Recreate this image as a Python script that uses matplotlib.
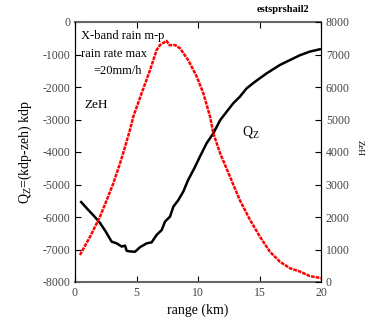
import matplotlib
matplotlib.use("Agg")
import matplotlib.pyplot as plt

plt.rcParams['font.family'] = ['Liberation Serif', 'DejaVu Serif']
plt.rcParams['axes.unicode_minus'] = False

# Q_Z (left axis)
qz_x = [0.5, 1.0, 1.5, 2.03, 2.5, 2.98, 3.39, 3.8, 4.07, 4.2, 4.5, 4.88, 5.28, 5.83,
        6.23, 6.64, 7.05, 7.32, 7.72, 8.0, 8.4, 8.8, 9.2, 9.7, 10.16, 10.7, 11.24,
        11.8, 12.33, 12.87, 13.4, 13.96, 14.63, 15.58, 16.67, 17.48, 18.3, 19.1, 19.9]
qz_y = [-5540, -5750, -5950, -6180, -6450, -6760, -6810, -6910, -6880, -7040, -7060,
        -7070, -6930, -6810, -6780, -6550, -6400, -6140, -5990, -5680, -5480, -5220,
        -4860, -4500, -4140, -3730, -3430, -3020, -2760, -2500, -2300, -2040, -1840,
        -1580, -1320, -1170, -1020, -910, -840]

# ZeH (right axis)
zeh_x = [0.4, 1.22, 2.03, 2.58, 3.12, 3.66, 4.07, 4.47, 4.74, 5.42, 6.1, 6.64, 6.91,
         7.45, 7.67, 8.13, 8.54, 9.2, 9.9, 10.43, 10.98, 11.24, 11.8, 12.6, 13.4,
         14.23, 15.04, 15.85, 16.67, 17.5, 18.3, 19.1, 20.0]
zeh_y = [830, 1390, 2010, 2520, 3040, 3650, 4160, 4680, 5090, 5810, 6520, 7140, 7290,
         7420, 7290, 7290, 7190, 6830, 6320, 5810, 5090, 4580, 3960, 3240, 2520,
         1910, 1390, 930, 620, 420, 320, 180, 120]

fig = plt.figure(figsize=(3.66, 3.2), dpi=100)
ax = fig.add_axes([75/366, 1-282/320, 246/366, 260/320])
ax.plot(qz_x, qz_y, color='black', lw=1.8)
ax.set_xlim(0, 20)
ax.set_ylim(-8000, 0)
ax.set_xticks([0, 5, 10, 15, 20])
ax.set_yticks(range(-8000, 1, 1000))
ax.tick_params(direction='in', labelsize=8.5, labelcolor='#444444', length=4, top=True)
ax.spines['top'].set_color('#666666')
ax.spines['bottom'].set_color('#666666')
ax.spines['top'].set_linewidth(1.5)
ax.spines['bottom'].set_linewidth(1.5)
ax.set_xlabel('range (km)', fontsize=10, labelpad=3)
ax.set_ylabel('Q$_\\mathregular{Z}$=(kdp-zeh) kdp', fontsize=10, labelpad=6)

ax2 = ax.twinx()
ax2.plot(zeh_x, zeh_y, color='red', lw=1.8, ls=(0, (1.5, 0.4)))
ax2.set_ylim(0, 8000)
ax2.set_yticks(range(0, 8001, 1000))
ax2.tick_params(direction='in', labelsize=8.5, labelcolor='#444444', length=4)
ax2.spines['top'].set_visible(False)
ax2.spines['bottom'].set_visible(False)

ax.text(0.45, -250, 'X-band rain m-p', fontsize=9, va='top')
ax.text(0.45, -800, 'rain rate max', fontsize=9, va='top')
ax.text(1.5, -1320, '=20mm/h', fontsize=9, va='top')
ax.text(0.8, -2370, 'ZeH', fontsize=9.5, va='top')
ax.text(13.6, -3150, 'Q$_\\mathregular{Z}$', fontsize=10, va='top')

fig.text(283/366, 1-10/320, 'estsprshail2', fontsize=7.5, fontweight='bold',
         ha='center', va='center')
fig.text(0.972, 1-148/320, 'ZeH', fontsize=6.5, rotation=-90, va='center', ha='left')

fig.savefig('out.png', dpi=100)
